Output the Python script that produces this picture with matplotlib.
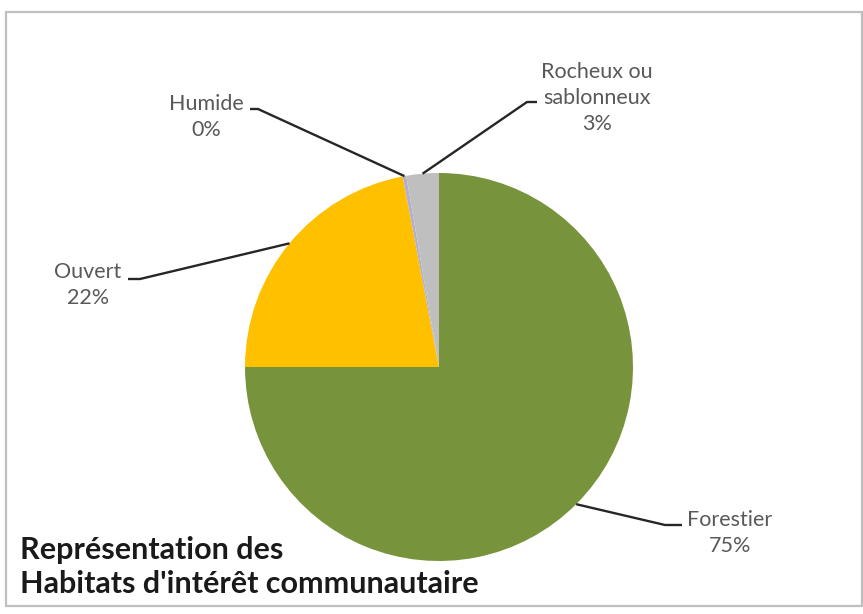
"""Pie chart: Représentation des Habitats d'intérêt communautaire."""

import matplotlib.pyplot as plt
import numpy as np
from matplotlib.patches import Rectangle

# Data
categories = ["Forestier", "Ouvert", "Humide", "Rocheux ou\nsablonneux"]
shares = [75.0, 22.0, 0.3, 2.7]
colors = ["#77933C", "#FFC000", "#B4AECF", "#BFBFBF"]

# Layout (pixels from top-left): label centre, leader elbow, leader end at text
label_xy = [(730, 533), (88, 285), (206, 117), (597, 98)]
elbow_xy = [(665, 525), (140, 279), (258, 109), (527, 102)]
end_xy = [(682, 525), (128, 279), (250, 109), (537, 102)]

W, H = 863, 614
fig = plt.figure(figsize=(W / 100, H / 100), dpi=100)
ax = fig.add_axes([0, 0, 1, 1])

cx, cy, r = 439, H - 367, 194
wedges, _ = ax.pie(shares, colors=colors, startangle=90, counterclock=False,
                   center=(cx, cy), radius=r, wedgeprops=dict(linewidth=0))
ax.set_xlim(0, W)
ax.set_ylim(0, H)
ax.set_aspect("equal")
ax.axis("off")

# chart border
ax.add_patch(Rectangle((6, H - 606), 856, 594, fill=False,
                       edgecolor="#BFBFBF", linewidth=1.6))

for w, name, val, (lx, ly), (ex, ey), (tx, ty) in zip(
        wedges, categories, shares, label_xy, elbow_xy, end_xy):
    mid = np.deg2rad((w.theta1 + w.theta2) / 2)
    px, py = cx + r * np.cos(mid), cy + r * np.sin(mid)
    ax.plot([px, ex, tx], [py, H - ey, H - ty], color="#262626", lw=1.7,
            solid_capstyle="butt")
    ax.text(lx, H - ly, f"{name}\n{round(val)}%", ha="center", va="center",
            fontsize=15.5, family="Lato", color="#595959", linespacing=1.35)

ax.text(20, H - 567, "Représentation des\nHabitats d'intérêt communautaire",
        ha="left", va="center", fontsize=22, fontweight="bold", family="Lato",
        color="#1A1A1A", linespacing=1.25)

plt.savefig("out.png", dpi=100)
plt.close()
